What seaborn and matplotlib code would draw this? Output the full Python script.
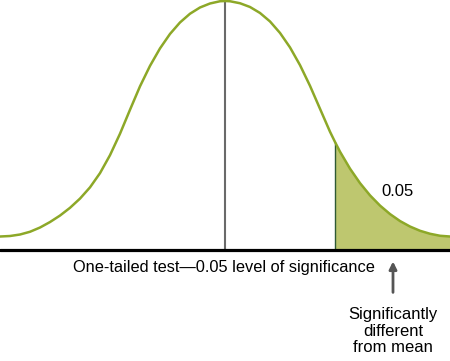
import numpy as np
import pandas as pd
import seaborn as sns
import matplotlib.pyplot as plt

# Curve: position from the mean, height as % of the peak
positions = [-45, -43, -41, -39, -37, -35, -33, -31, -29, -27, -25, -23, -21, -19,
             -17, -15, -13, -11, -9, -7, -5, -3, -1, 0, 1, 3, 5, 7, 9, 11, 13, 15,
             17, 19, 21, 22, 23, 25, 27, 29, 31, 33, 35, 37, 39, 41, 43, 45]
heights = [5.6, 5.8, 6.4, 7.5, 9.2, 11.4, 14.0, 17.1, 20.8, 25.3, 31.0, 38.2, 46.8, 56.4,
           65.8, 74.0, 81.0, 86.8, 91.4, 94.9, 97.4, 99.0, 99.9, 100.0, 99.9, 99.1, 97.6,
           95.2, 91.8, 87.2, 81.4, 74.3, 66.0, 56.8, 47.6, 43.5, 39.6, 32.8, 27.0, 22.1,
           18.0, 14.6, 11.8, 9.6, 7.9, 6.7, 5.9, 5.6]
mean_pos = 0
cutoff = 22
tail_label = "0.05"
axis_label = "One-tailed test\u20140.05 level of significance"
arrow_label = "Significantly\ndifferent\nfrom mean"

df = pd.DataFrame({"pos": positions, "height": heights})

sns.set_style("white")
plt.rcParams["font.family"] = ["Liberation Sans", "DejaVu Sans"]

fig = plt.figure(figsize=(4.5, 3.61), dpi=100)
ax = fig.add_axes([0, 0, 1, 1])

line_green = "#8da828"
fill_green = "#bec76f"

# shaded tail
tail = df[df["pos"] >= cutoff]
ax.fill_between(tail["pos"], 0, tail["height"], color=fill_green, linewidth=0, zorder=1)

# normal curve
sns.lineplot(data=df, x="pos", y="height", ax=ax, color=line_green,
             linewidth=1.8, sort=False, zorder=3, solid_joinstyle="round")

# mean line and cutoff line
peak = df.loc[df["pos"] == mean_pos, "height"].iloc[0]
cut_h = df.loc[df["pos"] == cutoff, "height"].iloc[0]
ax.plot([mean_pos, mean_pos], [0, peak], color="#6a6a6a", linewidth=1.5, zorder=2)
ax.plot([cutoff, cutoff], [0, cut_h], color="#2f5a35", linewidth=1.0, zorder=2)

# baseline
ax.axhline(0, color="black", linewidth=2.3, zorder=4)

ax.text(34.6, 23.8, tail_label, ha="center", va="center", fontsize=12, color="black")
ax.text(-0.3, -7.0, axis_label, ha="center", va="center", fontsize=11.8, color="black")

ax.annotate("", xy=(33.6, -4.4), xytext=(33.6, -16.8),
            arrowprops=dict(arrowstyle="-|>", color="#555555", lw=2.0,
                            mutation_scale=11, shrinkA=0, shrinkB=0))
ax.text(33.6, -32.3, arrow_label, ha="center", va="center", fontsize=12,
        linespacing=1.1, multialignment="center", color="black")

ax.set_xlim(-45, 45)
ax.set_ylim(-44.3, 100.4)
ax.set_axis_off()

fig.savefig("out.png", dpi=100)
